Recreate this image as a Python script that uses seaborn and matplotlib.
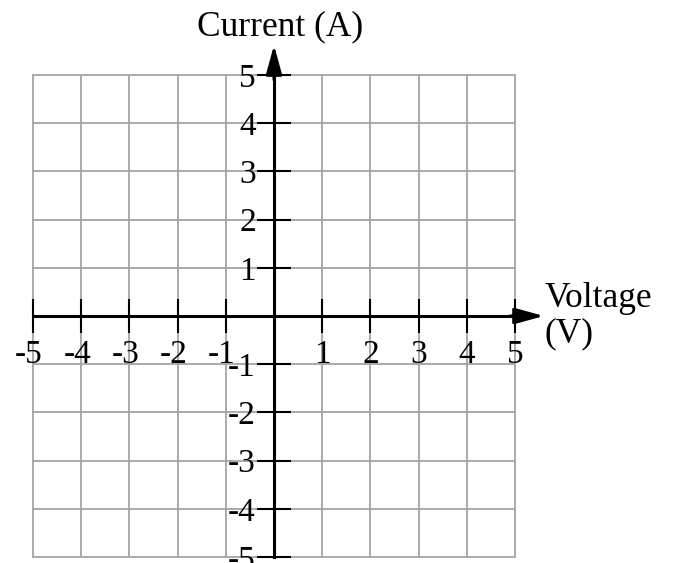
import matplotlib
matplotlib.use("Agg")
import matplotlib.pyplot as plt
import matplotlib.transforms as mtransforms
import seaborn as sns

# tick values and labels (origin has no label)
x_ticks = [-5, -4, -3, -2, -1, 1, 2, 3, 4, 5]
y_ticks = [-5, -4, -3, -2, -1, 1, 2, 3, 4, 5]
x_labels = ["-5", "-4", "-3", "-2", "-1", "1", "2", "3", "4", "5"]
y_labels = ["-5", "-4", "-3", "-2", "-1", "1", "2", "3", "4", "5"]
x_range = (-5, 5)
y_range = (-5, 5)
x_title = "Voltage\n(V)"
y_title = "Current (A)"

sns.set_style("white")
plt.rcParams["font.family"] = ["Liberation Serif", "DejaVu Serif"]
plt.rcParams["axes.unicode_minus"] = False
plt.rcParams["text.color"] = "black"

fig = plt.figure(figsize=(6.75, 5.63), dpi=100)
ax = fig.add_axes([33 / 675, 6 / 563, 482 / 675, 482 / 563])
ax.set_xlim(*x_range)
ax.set_ylim(*y_range)

# axes through the origin
for side in ["top", "right"]:
    ax.spines[side].set_visible(False)
for side in ["left", "bottom"]:
    ax.spines[side].set_position("zero")
    ax.spines[side].set_linewidth(2.2)
    ax.spines[side].set_color("black")
    ax.spines[side].set_zorder(3)

ax.set_xticks(x_ticks)
ax.set_xticklabels(x_labels)
ax.set_yticks(y_ticks)
ax.set_yticklabels(y_labels)
ax.tick_params(axis="x", which="major", direction="inout", length=24, width=1.5,
               color="black", labelcolor="black", labelsize=24, pad=5, bottom=True)
ax.tick_params(axis="y", which="major", direction="inout", length=24, width=1.5,
               color="black", labelcolor="black", labelsize=24, pad=1, left=True)

# grid through every unit (the zero line sits under the axes)
ax.grid(True, color="#a4a4a4", linewidth=1.3, clip_on=False)
ax.set_axisbelow(True)

# keep the digit of negative x labels over its tick
shift = mtransforms.ScaledTranslation(-4 / 100, 0, fig.dpi_scale_trans)
for lab, v in zip(ax.get_xticklabels(), x_ticks):
    if v < 0:
        lab.set_transform(lab.get_transform() + shift)

# arrow heads
arrow = dict(arrowstyle="-|>,head_length=0.8,head_width=0.22", mutation_scale=22,
             lw=2.2, color="black", shrinkA=0, shrinkB=0)
ax.annotate("", xy=(5.6, 0), xytext=(4.9, 0), arrowprops=arrow, annotation_clip=False)
ax.annotate("", xy=(0, 5.62), xytext=(0, 4.9), arrowprops=arrow, annotation_clip=False)

ax.text(0.12, 6.0, y_title, ha="center", va="center", fontsize=25.5, clip_on=False)
ax.text(5.62, 0.0, x_title, ha="left", va="center", fontsize=25.5, linespacing=1.1,
        clip_on=False)

fig.savefig("out.png", dpi=100)
